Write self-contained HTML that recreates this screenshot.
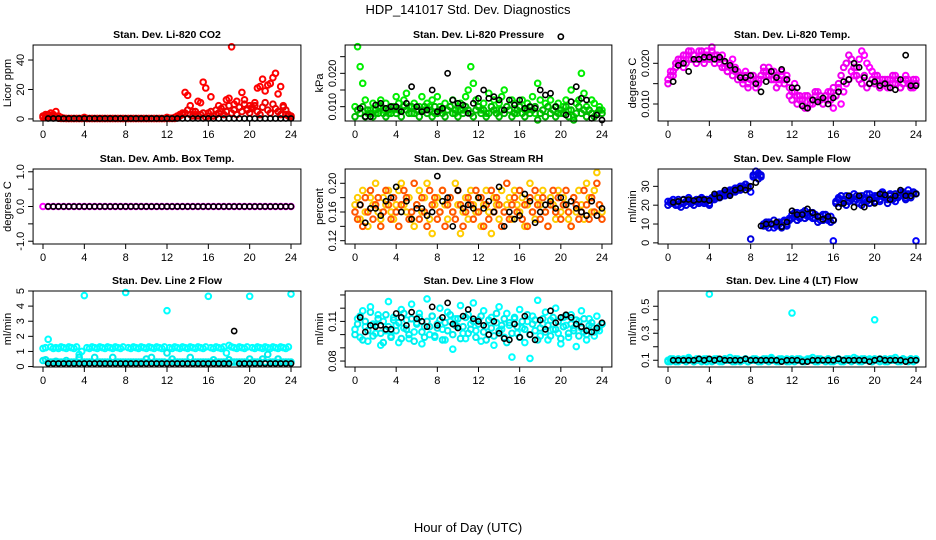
<!DOCTYPE html>
<html><head><meta charset="utf-8">
<style>
html,body{margin:0;padding:0;background:#fff;}
svg{display:block;font-family:"Liberation Sans",Arial,sans-serif;}
</style></head>
<body>
<svg id="chart" width="936" height="540" viewBox="0 0 936 540" xmlns="http://www.w3.org/2000/svg">
<text x="468" y="14" text-anchor="middle" font-size="13">HDP_141017  Std. Dev. Diagnostics</text>
<text x="468" y="532" text-anchor="middle" font-size="13">Hour of Day (UTC)</text>
</svg>
<script>
// ---- data (hourly std-dev diagnostics) ----
const xTickLabels = [0,4,8,12,16,20,24];
const panelTitles = ["Stan. Dev. Li-820 CO2","Stan. Dev. Li-820 Pressure","Stan. Dev. Li-820 Temp.","Stan. Dev. Amb. Box Temp.","Stan. Dev. Gas Stream RH","Stan. Dev. Sample Flow","Stan. Dev. Line 2 Flow","Stan. Dev. Line 3 Flow","Stan. Dev. Line 4 (LT) Flow"];
const yAxisTitles = ["Licor ppm","kPa","degrees C","degrees C","percent","ml/min","ml/min","ml/min","ml/min"];
const yTickValues = [[0,20,40],[0.010,0.015,0.020,0.025],[0.010,0.015,0.020],[-1,-0.5,0,0.5,1],[0.12,0.14,0.16,0.18,0.20],[0,10,20,30],[0,1,2,3,4,5],[0.08,0.09,0.10,0.11,0.12,0.13],[0.1,0.2,0.3,0.4,0.5]];
const yTickLabels = [["0","20","40"],["0.010","","0.020",""],["0.010","","0.020"],["-1.0","","0.0","","1.0"],["0.12","","0.16","","0.20"],["0","10","20","30"],["0","1","2","3","4","5"],["0.08","","","0.11","",""],["0.1","","0.3","","0.5"]];

const co2A = [1,3,2,4,3,5,2,1,0.5,0.3,0.3,0.3,0.3,0.3,0.3,0.3,1,0.3,0.3,0.3,0.3,0.3,0.3,0.3,0.3,0.3,0.3,0.3,0.3,0.3,0.3,0.3,0.3,0.3,0.3,0.3,0.3,0.3,0.3,0.3,0.3,0.3,0.3,0.3,0.3,0.3,0.3,0.3,1,0.5,0.5,1,2,3,4,18,16,9,5,3,12,11,25,21,4,15,2,3,9,5,8,13,14,49,10,12,8,18,13,7,9,8,11,21,22,27,19,23,24,28,31,17,22,9,3,2,1];
const co2B = [2,1,3,1,2,1,0.5,0.3,0.3,0.3,0.3,0.3,0.3,0.3,0.3,0.3,0.3,0.3,0.3,0.3,0.3,0.3,0.3,0.3,0.3,0.3,0.3,0.3,0.3,0.3,0.3,0.3,0.3,0.3,0.3,0.3,0.3,0.3,0.3,0.3,0.3,0.3,0.3,0.3,0.3,0.3,0.3,0.3,0.3,0.3,0.3,0.3,1,2,3,4,6,3,2,5,2,3,4,1,2,5,2,6,4,7,3,5,9,4,6,3,8,5,10,6,4,7,9,5,3,8,11,6,4,10,7,5,3,8,6,3,2];
const co2K = [0.3,0.3,0.3,0.3,0.3,0.3,0.3,0.3,0.3,0.3,0.3,0.3,0.3,0.3,0.3,0.3,0.3,0.3,0.3,0.3,0.3,0.3,0.3,0.3,0.3,0.3,0.3,0.3,0.3,0.3,0.3,0.3,0.3,0.3,0.3,0.3,0.3,0.3,0.3,0.3,0.3,0.3,0.3,0.3,0.3,0.3,0.3,0.3];

const presA = [0.010,0.028,0.022,0.017,0.012,0.008,0.009,0.011,0.008,0.010,0.012,0.009,0.011,0.008,0.010,0.009,0.013,0.011,0.009,0.012,0.014,0.010,0.008,0.011,0.009,0.010,0.013,0.009,0.011,0.010,0.012,0.008,0.013,0.010,0.009,0.011,0.009,0.010,0.012,0.008,0.010,0.011,0.009,0.013,0.015,0.022,0.017,0.012,0.010,0.009,0.011,0.008,0.014,0.010,0.012,0.009,0.011,0.013,0.015,0.010,0.009,0.012,0.011,0.008,0.010,0.012,0.009,0.011,0.010,0.013,0.008,0.017,0.012,0.009,0.011,0.010,0.012,0.009,0.010,0.011,0.008,0.010,0.012,0.009,0.015,0.007,0.011,0.012,0.020,0.014,0.010,0.009,0.012,0.011,0.008,0.010,0.009];
const presB = [0.007,0.009,0.008,0.010,0.007,0.009,0.008,0.007,0.009,0.008,0.010,0.008,0.007,0.009,0.008,0.010,0.008,0.009,0.007,0.010,0.009,0.008,0.010,0.008,0.009,0.007,0.009,0.010,0.008,0.009,0.007,0.010,0.008,0.009,0.008,0.007,0.009,0.010,0.008,0.009,0.007,0.009,0.008,0.010,0.009,0.008,0.007,0.009,0.010,0.008,0.009,0.007,0.008,0.010,0.009,0.008,0.007,0.009,0.008,0.010,0.009,0.007,0.008,0.009,0.010,0.008,0.007,0.009,0.008,0.009,0.010,0.006,0.008,0.009,0.007,0.010,0.008,0.009,0.007,0.008,0.009,0.008,0.010,0.007,0.009,0.006,0.008,0.010,0.008,0.009,0.007,0.009,0.008,0.007,0.008,0.009,0.008];
const presK = [0.0095,0.007,0.007,0.0105,0.011,0.0095,0.010,0.010,0.0085,0.011,0.016,0.010,0.0085,0.009,0.015,0.0085,0.0095,0.020,0.012,0.011,0.0105,0.008,0.011,0.0125,0.015,0.0125,0.013,0.012,0.009,0.012,0.0105,0.012,0.0095,0.010,0.0095,0.015,0.0135,0.014,0.010,0.031,0.0075,0.0115,0.016,0.0125,0.012,0.0065,0.0075,0.006];

const tempA = [0.016,0.018,0.017,0.019,0.020,0.021,0.019,0.022,0.021,0.023,0.022,0.021,0.023,0.022,0.021,0.023,0.022,0.024,0.022,0.021,0.020,0.022,0.019,0.018,0.020,0.021,0.019,0.018,0.017,0.016,0.018,0.015,0.017,0.016,0.014,0.015,0.016,0.018,0.017,0.019,0.018,0.016,0.017,0.015,0.018,0.016,0.017,0.014,0.013,0.015,0.012,0.011,0.010,0.012,0.009,0.011,0.010,0.012,0.013,0.011,0.010,0.012,0.013,0.011,0.009,0.012,0.014,0.010,0.013,0.015,0.016,0.018,0.017,0.019,0.021,0.023,0.022,0.020,0.019,0.018,0.017,0.016,0.014,0.015,0.016,0.014,0.016,0.015,0.017,0.016,0.014,0.015,0.017,0.016,0.015,0.014,0.016];
const tempB = [0.015,0.017,0.018,0.020,0.021,0.020,0.022,0.020,0.023,0.021,0.022,0.020,0.021,0.023,0.020,0.022,0.021,0.023,0.020,0.022,0.021,0.019,0.020,0.018,0.019,0.017,0.018,0.016,0.017,0.015,0.017,0.014,0.016,0.017,0.015,0.016,0.017,0.019,0.018,0.017,0.016,0.018,0.014,0.016,0.017,0.015,0.016,0.012,0.011,0.013,0.010,0.012,0.011,0.009,0.012,0.010,0.011,0.013,0.011,0.012,0.010,0.012,0.011,0.013,0.014,0.012,0.015,0.017,0.019,0.020,0.022,0.021,0.019,0.017,0.016,0.015,0.017,0.014,0.015,0.016,0.015,0.017,0.014,0.016,0.015,0.016,0.014,0.017,0.015,0.016,0.014,0.015,0.016,0.015,0.014,0.016,0.015];
const tempK = [0.0155,0.0195,0.020,0.018,0.021,0.021,0.0215,0.0215,0.021,0.0215,0.0205,0.0195,0.0185,0.0165,0.0165,0.017,0.015,0.013,0.0155,0.018,0.0165,0.0185,0.016,0.014,0.014,0.0095,0.009,0.011,0.0105,0.0115,0.010,0.0115,0.013,0.0155,0.016,0.020,0.019,0.0165,0.015,0.0155,0.0145,0.015,0.014,0.0135,0.016,0.022,0.0145,0.0145];

const ambA = [0,0,0,0,0,0,0,0,0,0,0,0,0,0,0,0,0,0,0,0,0,0,0,0,0,0,0,0,0,0,0,0,0,0,0,0,0,0,0,0,0,0,0,0,0,0,0,0,0];
const ambK = [0,0,0,0,0,0,0,0,0,0,0,0,0,0,0,0,0,0,0,0,0,0,0,0,0,0,0,0,0,0,0,0,0,0,0,0,0,0,0,0,0,0,0,0,0,0,0,0];

const rhA = [0.17,0.18,0.15,0.19,0.16,0.14,0.18,0.17,0.20,0.16,0.15,0.18,0.17,0.19,0.16,0.15,0.17,0.19,0.20,0.17,0.16,0.18,0.15,0.14,0.17,0.19,0.16,0.18,0.20,0.15,0.13,0.17,0.18,0.16,0.19,0.17,0.15,0.18,0.16,0.20,0.17,0.13,0.16,0.18,0.15,0.19,0.17,0.16,0.18,0.14,0.17,0.19,0.16,0.13,0.18,0.17,0.15,0.19,0.16,0.17,0.18,0.15,0.19,0.17,0.16,0.18,0.14,0.17,0.20,0.16,0.15,0.18,0.17,0.19,0.16,0.14,0.18,0.17,0.15,0.19,0.16,0.18,0.17,0.15,0.14,0.18,0.16,0.19,0.17,0.15,0.20,0.18,0.16,0.19,0.215,0.17,0.16];
const rhB = [0.16,0.15,0.17,0.14,0.18,0.16,0.19,0.15,0.17,0.18,0.14,0.16,0.19,0.17,0.15,0.18,0.16,0.14,0.17,0.19,0.18,0.15,0.16,0.20,0.17,0.15,0.18,0.16,0.14,0.19,0.17,0.18,0.15,0.16,0.19,0.14,0.17,0.18,0.16,0.15,0.19,0.17,0.14,0.16,0.18,0.17,0.15,0.19,0.16,0.18,0.14,0.17,0.15,0.19,0.16,0.18,0.17,0.14,0.16,0.20,0.15,0.17,0.18,0.16,0.19,0.15,0.17,0.14,0.18,0.16,0.19,0.17,0.15,0.18,0.16,0.14,0.17,0.19,0.16,0.18,0.15,0.17,0.19,0.16,0.14,0.18,0.17,0.15,0.16,0.19,0.17,0.15,0.18,0.16,0.20,0.17,0.15];
const rhK = [0.17,0.145,0.165,0.165,0.155,0.175,0.18,0.195,0.16,0.175,0.15,0.165,0.165,0.155,0.16,0.21,0.175,0.18,0.14,0.19,0.165,0.17,0.165,0.18,0.165,0.175,0.16,0.195,0.14,0.16,0.15,0.155,0.185,0.175,0.145,0.16,0.17,0.175,0.165,0.18,0.17,0.175,0.165,0.16,0.155,0.175,0.155,0.165];

const flowA = [22,21,23,22,20,21,23,22,24,21,22,23,22,24,22,23,21,23,25,24,26,25,27,26,28,27,29,28,30,29,31,30,27,35,36,37,35,10,9,11,10,8,10,11,9,12,10,13,15,14,16,13,15,17,14,16,13,15,14,12,15,13,12,14,1,22,24,21,23,25,22,24,26,23,21,25,24,22,26,23,25,24,22,27,25,23,26,24,22,25,27,26,24,28,25,26,1];
const flowB = [20,22,21,20,23,19,21,20,22,21,20,22,21,23,21,22,20,24,23,25,24,26,25,27,26,28,27,29,28,30,31,29,2,36,38,34,36,9,11,8,10,12,9,10,8,11,9,12,13,16,12,14,16,13,15,14,16,13,11,14,12,15,13,11,12,21,23,25,22,20,24,23,22,25,24,20,23,26,21,24,22,25,23,26,24,21,25,23,26,24,25,27,23,26,24,27,26];
const flowK = [21.5,22,23,23,22.5,23,23,22.5,26,24,28,25,28,29,28,30,32,9,10,10,11,8.5,11,17,15,15,18,16,14,12.5,14,12,19,21,25,19,25,19,23,21,26,25.5,23,25,28,25,25,26];

const l2A = [1.2,1.25,1.8,1.3,1.2,1.25,1.2,1.3,1.25,1.2,1.3,1.25,1.2,1.3,0.8,1.0,4.7,1.25,1.2,1.3,1.25,1.2,1.3,1.25,1.2,1.3,1.25,1.2,1.3,1.25,1.2,1.3,4.9,1.25,1.2,1.3,1.25,1.2,1.3,1.25,1.2,1.3,1.25,1.2,1.3,1.25,1.2,1.3,3.7,1.25,1.2,1.3,1.25,1.2,1.3,1.25,1.2,1.3,1.25,1.2,1.3,1.25,1.2,1.3,4.65,1.25,1.2,1.3,1.25,1.2,1.3,0.9,1.4,1.3,1.25,1.2,1.3,1.25,1.2,1.3,4.65,1.25,1.2,1.3,1.25,1.2,1.3,1.25,1.2,1.3,1.25,1.2,1.3,1.25,1.2,1.3,4.8];
const l2B = [0.4,0.45,0.3,0.3,0.3,0.35,0.3,0.3,0.3,0.4,0.3,0.3,0.3,0.3,0.6,0.3,0.3,0.3,0.3,0.3,0.6,0.3,0.3,0.3,0.3,0.3,0.3,0.6,0.3,0.3,0.3,0.3,0.3,0.3,0.3,0.3,0.3,0.3,0.3,0.3,0.5,0.3,0.6,0.3,0.3,0.3,0.3,0.3,0.9,0.3,0.5,0.3,0.3,0.3,0.3,0.3,0.3,0.6,0.3,0.3,0.3,0.3,0.3,0.3,0.3,0.3,0.45,0.3,0.3,0.3,0.3,0.3,0.45,0.3,0.3,0.3,0.3,0.3,0.3,0.3,0.5,0.3,0.3,0.3,0.3,0.5,0.3,0.8,0.3,0.3,0.3,0.5,0.3,0.3,0.3,0.3,0.3];
const l2K = [0.2,0.2,0.2,0.2,0.2,0.2,0.2,0.2,0.2,0.2,0.2,0.2,0.2,0.2,0.2,0.2,0.2,0.2,0.2,0.2,0.2,0.2,0.2,0.2,0.2,0.2,0.2,0.2,0.2,0.2,0.2,0.2,0.2,0.2,0.2,0.2,2.35,0.2,0.2,0.2,0.2,0.2,0.2,0.2,0.2,0.2,0.2,0.2];

const l3A = [0.104,0.112,0.098,0.118,0.106,0.095,0.121,0.108,0.101,0.115,0.092,0.110,0.103,0.125,0.099,0.113,0.107,0.094,0.119,0.105,0.111,0.097,0.123,0.102,0.109,0.116,0.093,0.106,0.127,0.100,0.114,0.098,0.108,0.120,0.104,0.096,0.117,0.110,0.089,0.112,0.106,0.122,0.101,0.097,0.115,0.108,0.124,0.103,0.111,0.095,0.118,0.106,0.100,0.113,0.092,0.109,0.121,0.104,0.098,0.116,0.107,0.083,0.112,0.101,0.119,0.105,0.094,0.110,0.082,0.114,0.103,0.126,0.099,0.108,0.117,0.096,0.111,0.104,0.120,0.101,0.093,0.113,0.107,0.098,0.115,0.105,0.091,0.110,0.118,0.102,0.096,0.112,0.106,0.099,0.114,0.103,0.108];
const l3B = [0.100,0.108,0.114,0.096,0.110,0.103,0.117,0.099,0.107,0.112,0.101,0.094,0.115,0.106,0.098,0.111,0.103,0.109,0.097,0.116,0.104,0.100,0.112,0.095,0.108,0.113,0.102,0.098,0.110,0.106,0.114,0.099,0.105,0.111,0.096,0.109,0.103,0.115,0.100,0.107,0.112,0.097,0.106,0.113,0.101,0.104,0.110,0.098,0.108,0.114,0.102,0.096,0.111,0.105,0.099,0.116,0.103,0.107,0.112,0.094,0.109,0.101,0.113,0.106,0.098,0.110,0.104,0.115,0.100,0.108,0.111,0.096,0.105,0.112,0.102,0.107,0.099,0.113,0.104,0.110,0.097,0.106,0.114,0.101,0.108,0.103,0.111,0.099,0.105,0.112,0.100,0.107,0.109,0.102,0.104,0.106,0.108];
const l3K = [0.113,0.102,0.107,0.106,0.107,0.104,0.104,0.116,0.113,0.107,0.117,0.112,0.110,0.106,0.121,0.107,0.113,0.124,0.108,0.105,0.114,0.119,0.112,0.110,0.107,0.100,0.110,0.101,0.097,0.096,0.108,0.098,0.114,0.100,0.096,0.111,0.104,0.118,0.109,0.113,0.115,0.113,0.108,0.106,0.103,0.102,0.105,0.109];

const l4A = [0.10,0.09,0.11,0.10,0.09,0.10,0.11,0.10,0.12,0.10,0.09,0.11,0.10,0.10,0.11,0.09,0.59,0.10,0.11,0.10,0.09,0.10,0.11,0.10,0.12,0.10,0.09,0.11,0.10,0.10,0.11,0.09,0.10,0.10,0.11,0.10,0.09,0.10,0.11,0.10,0.12,0.10,0.09,0.11,0.10,0.10,0.11,0.09,0.45,0.10,0.11,0.10,0.09,0.10,0.11,0.10,0.12,0.10,0.09,0.11,0.10,0.10,0.11,0.09,0.10,0.10,0.11,0.10,0.09,0.10,0.11,0.10,0.12,0.10,0.09,0.11,0.10,0.10,0.11,0.09,0.40,0.10,0.11,0.10,0.09,0.10,0.11,0.10,0.12,0.10,0.09,0.11,0.10,0.10,0.11,0.09,0.11];
const l4B = [0.09,0.11,0.10,0.09,0.11,0.10,0.10,0.09,0.11,0.10,0.09,0.10,0.11,0.09,0.10,0.11,0.10,0.09,0.10,0.11,0.10,0.09,0.11,0.10,0.10,0.09,0.11,0.10,0.09,0.10,0.11,0.09,0.10,0.11,0.10,0.09,0.10,0.11,0.10,0.09,0.11,0.10,0.10,0.09,0.11,0.10,0.09,0.10,0.11,0.09,0.10,0.11,0.10,0.09,0.10,0.11,0.10,0.09,0.11,0.10,0.10,0.09,0.11,0.10,0.09,0.10,0.11,0.09,0.10,0.11,0.10,0.09,0.10,0.11,0.10,0.09,0.11,0.10,0.10,0.09,0.11,0.10,0.09,0.10,0.11,0.09,0.10,0.11,0.10,0.09,0.10,0.11,0.10,0.09,0.11,0.10,0.10];
const l4K = [0.10,0.10,0.10,0.10,0.10,0.11,0.10,0.11,0.10,0.11,0.10,0.10,0.10,0.10,0.11,0.10,0.10,0.10,0.10,0.10,0.10,0.09,0.10,0.10,0.10,0.09,0.09,0.10,0.10,0.10,0.10,0.10,0.11,0.10,0.10,0.10,0.10,0.10,0.09,0.10,0.11,0.10,0.10,0.10,0.10,0.09,0.10,0.10];

const seriesColored = [[co2A,co2B],[presA,presB],[tempA,tempB],[ambA],[rhA,rhB],[flowA,flowB],[l2A,l2B],[l3A,l3B],[l4A,l4B]];
const seriesBlack = [co2K,presK,tempK,ambK,rhK,flowK,l2K,l3K,l4K];

// ---- layout ----
const NS = "http://www.w3.org/2000/svg";
const svg = document.getElementById("chart");
const colX = [[43,291],[355,602],[668,916]];
const rowBox = [[45,121],[169,244],[291,367]];
const yLims = [[-1.4,50.2],[0.0057,0.0285],[0.00582,0.0245],[-1.08,1.08],[0.1154,0.2199],[-0.6,39.2],[-0.03,5.0],[0.0755,0.133],[0.05,0.613]];
const colors = [["#ff0000","#ee0000"],["#00ee00","#00bb00"],["#ff00ff","#ee00ee"],["#ff00ff"],["#ffcc00","#ff5500"],["#0000ff","#0000dd"],["#00ffff","#00eeee"],["#00ffff","#00eeee"],["#00ffff","#00eeee"]];

function mk(tag, attrs, parent){ const e=document.createElementNS(NS,tag); for(const k in attrs) e.setAttribute(k,attrs[k]); (parent||svg).appendChild(e); return e; }

for(let p=0;p<9;p++){
  const c=p%3, r=Math.floor(p/3);
  const [x0,x24]=colX[c]; const sx=(x24-x0)/24;
  const left=x0-0.04*24*sx, right=x24+0.04*24*sx;
  const [top,bot]=rowBox[r]; const [lo,hi]=yLims[p];
  const xS=h=>x0+h*sx;
  const yS=v=>bot-(v-lo)/(hi-lo)*(bot-top);
  const g=mk("g",{});
  
  
  const t=mk("text",{x:(left+right)/2,y:top-7,"text-anchor":"middle","font-size":"10.5","font-weight":"bold"},g);
  t.textContent=panelTitles[p];
  
  
  const cx=left-25, cy=(top+bot)/2;
  const yl=mk("text",{x:cx,y:cy,"text-anchor":"middle","font-size":"11",transform:`rotate(-90 ${cx} ${cy})`,"dominant-baseline":"middle"},g);
  yl.textContent=yAxisTitles[p];
  
  
  const cols=seriesColored[p];
  cols.forEach((arr,si)=>{
    arr.forEach((v,i)=>{
      const h=i*24/(arr.length-1);
      const pt=mk("circle",{cx:xS(h),cy:yS(v),r:2.8,fill:"none",stroke:colors[p][si],"stroke-width":2},g);
      
      
    });
  });
  const bk=seriesBlack[p];
  bk.forEach((v,i)=>{
    const h=0.5+i*23.5/(bk.length-1);
    const pt=mk("circle",{cx:xS(h),cy:yS(v),r:2.6,fill:"none",stroke:"#000","stroke-width":1.6},g);
    
    
  });
  const bx=mk("rect",{x:left,y:top,width:right-left,height:bot-top,fill:"none",stroke:"#000","stroke-width":1},g);
  
  
  xTickLabels.forEach(h=>{
    mk("line",{x1:xS(h),x2:xS(h),y1:bot,y2:bot+5,stroke:"#000"},g);
    const tl=mk("text",{x:xS(h),y:bot+17,"text-anchor":"middle","font-size":"11"},g);
    tl.textContent=h;
    
    
  });
  yTickValues[p].forEach((v,i)=>{
    const y=yS(v);
    mk("line",{x1:left-5,x2:left,y1:y,y2:y,stroke:"#000"},g);
    const lab=yTickLabels[p][i];
    if(lab){
      const tx=left-12;
      const tl=mk("text",{x:tx,y:y,"text-anchor":"middle","font-size":"11","dominant-baseline":"middle",transform:`rotate(-90 ${tx} ${y})`},g);
      tl.textContent=lab;
      
      
    }
  });
}
</script>
</body></html>
